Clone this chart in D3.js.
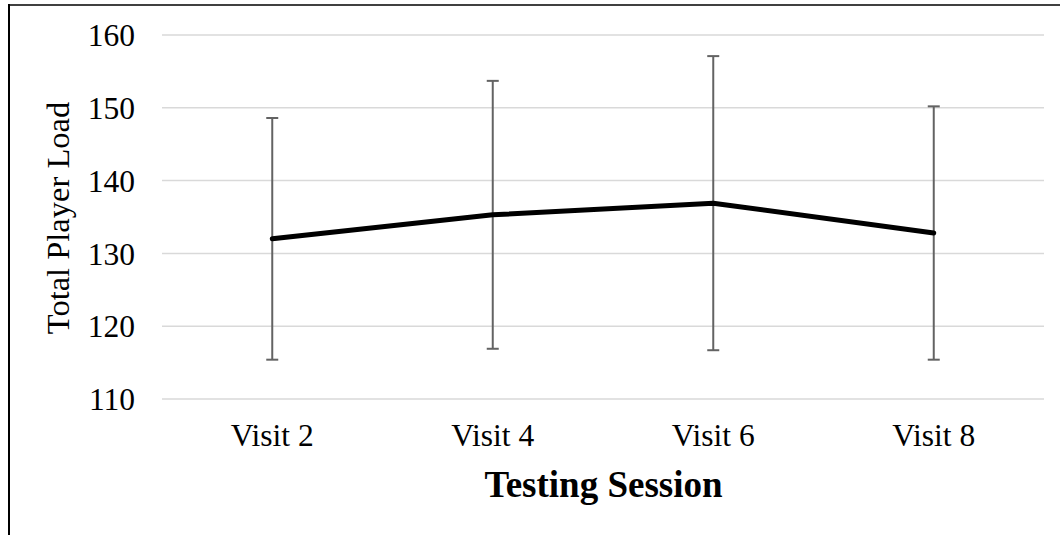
<!DOCTYPE html>
<html>
<head>
<meta charset="utf-8">
<script src="https://cdn.jsdelivr.net/npm/d3@7"></script>
<style>
  html, body { margin: 0; padding: 0; background: #fff; }
  svg { display: block; }
</style>
</head>
<body>
<svg id="chart" width="1064" height="535"></svg>
<script>
const categories = ["Visit 2", "Visit 4", "Visit 6", "Visit 8"];
const meanLoad = [132.0, 135.3, 136.9, 132.8];
const sdLoad = [16.6, 18.4, 20.2, 17.4];
const yTicks = [110, 120, 130, 140, 150, 160];
const yTitle = "Total Player Load";
const xTitle = "Testing Session";

const svg = d3.select("#chart");
const margin = { left: 162, right: 20, top: 35, bottom: 136 };
const W = 1064, H = 535;

const x = d3.scaleBand().domain(categories).range([margin.left, 1044]).padding(0);
const y = d3.scaleLinear().domain([110, 160]).range([399, 35]);
const cx = d => x(d) + x.bandwidth() / 2;

// Frame (left and top lines)
svg.append("line").attr("x1", 9).attr("x2", 9).attr("y1", 4).attr("y2", H)
  .attr("stroke", "#000").attr("stroke-width", 2);
svg.append("line").attr("x1", 8).attr("x2", 1060).attr("y1", 5).attr("y2", 5)
  .attr("stroke", "#000").attr("stroke-width", 1.6);

// Gridlines
svg.append("g").selectAll("line").data(yTicks).join("line")
  .attr("x1", margin.left).attr("x2", 1044)
  .attr("y1", d => y(d)).attr("y2", d => y(d))
  .attr("stroke", "#d9d9d9").attr("stroke-width", 1.5);

// Y axis via d3.axisLeft (no domain / tick lines)
const yAxis = svg.append("g").attr("transform", "translate(135,0)")
  .call(d3.axisLeft(y).tickValues(yTicks).tickSize(0).tickPadding(0));
yAxis.select(".domain").remove();
yAxis.selectAll("text")
  .attr("font-family", "'Liberation Serif', 'Times New Roman', serif")
  .attr("font-size", 31.5).attr("fill", "#000").attr("dy", "0.34em");

// X axis labels
const xAxis = svg.append("g").attr("transform", "translate(0,399)")
  .call(d3.axisBottom(x).tickSize(0).tickPadding(0));
xAxis.select(".domain").remove();
xAxis.selectAll("text")
  .attr("font-family", "'Liberation Serif', 'Times New Roman', serif")
  .attr("font-size", 31.5).attr("fill", "#000").attr("dy", null).attr("y", 47);

// Error bars
const eb = svg.append("g").attr("stroke", "#636363").attr("stroke-width", 2).attr("fill", "none");
categories.forEach((c, i) => {
  const hi = y(meanLoad[i] + sdLoad[i]), lo = y(meanLoad[i] - sdLoad[i]);
  eb.append("line").attr("x1", cx(c)).attr("x2", cx(c)).attr("y1", hi).attr("y2", lo);
  eb.append("line").attr("x1", cx(c) - 6).attr("x2", cx(c) + 6).attr("y1", hi).attr("y2", hi);
  eb.append("line").attr("x1", cx(c) - 6).attr("x2", cx(c) + 6).attr("y1", lo).attr("y2", lo);
});

// Mean line
const line = d3.line().x((d, i) => cx(categories[i])).y(d => y(d));
svg.append("path").datum(meanLoad).attr("d", line)
  .attr("fill", "none").attr("stroke", "#000").attr("stroke-width", 5)
  .attr("stroke-linejoin", "round").attr("stroke-linecap", "round");

// Axis titles
svg.append("text")
  .attr("transform", `translate(69,218) rotate(-90)`)
  .attr("text-anchor", "middle")
  .attr("font-family", "'Liberation Serif', 'Times New Roman', serif")
  .attr("font-size", 32.5).attr("fill", "#000")
  .text(yTitle);

svg.append("text")
  .attr("x", 603.5).attr("y", 497)
  .attr("text-anchor", "middle")
  .attr("font-family", "'Liberation Serif', 'Times New Roman', serif")
  .attr("font-size", 37).attr("font-weight", "bold").attr("fill", "#000")
  .text(xTitle);
</script>
</body>
</html>
